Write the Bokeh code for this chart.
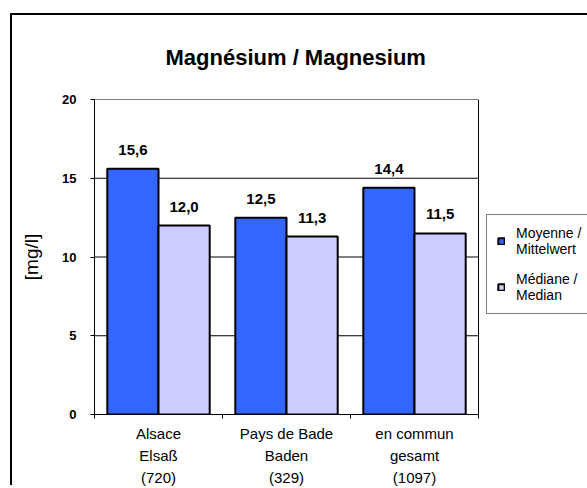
from bokeh.plotting import figure
from bokeh.models import (ColumnDataSource, Range1d, FixedTicker, LabelSet,
                          Legend, LegendItem, BoxAnnotation, InlineStyleSheet)
from bokeh.core.properties import value
from bokeh.embed import file_html
from bokeh.resources import INLINE

# ---- data ----
categories = ["Alsace\nElsaß\n(720)", "Pays de Bade\nBaden\n(329)", "en commun\ngesamt\n(1097)"]
mean_values = [15.6, 12.5, 14.4]
median_values = [12.0, 11.3, 11.5]
series_names = ["Moyenne /\nMittelwert", "Médiane /\nMedian"]
y_ticks = [0, 5, 10, 15, 20]
grid_values = [5, 10, 15]
title_text = "Magnésium / Magnesium"
y_label_text = "[mg/l]"

FONT = "'Liberation Sans'"
BLUE = "#3366FF"
LAV = "#CCCCFF"

n = len(categories)
idx = list(range(n))
Y_MAX = 20
# the frame runs on to the right edge so that the legend can sit beside the plot box
X_END = n * 493 / 384

p = figure(width=587, height=488, output_backend="svg", toolbar_location=None,
           x_range=Range1d(0, X_END), y_range=Range1d(0, Y_MAX),
           min_border_left=94, min_border_right=0, min_border_top=99,
           min_border_bottom=74)

def fmt(v):
    return f"{v:.1f}".replace(".", ",")

src_mean = ColumnDataSource(dict(x=[i + 0.3 for i in idx], top=mean_values,
                                 lbl=[fmt(v) for v in mean_values]))
src_med = ColumnDataSource(dict(x=[i + 0.7 for i in idx], top=median_values,
                                lbl=[fmt(v) for v in median_values]))

# horizontal gridlines limited to the plot box
p.segment(x0=[0] * len(grid_values), x1=[n] * len(grid_values),
          y0=grid_values, y1=grid_values, line_color="black", line_width=1,
          level="underlay")

r1 = p.vbar(x="x", top="top", width=0.4, source=src_mean, fill_color=BLUE,
            line_color="black", line_width=2)
r2 = p.vbar(x="x", top="top", width=0.4, source=src_med, fill_color=LAV,
            line_color="black", line_width=2)

# plot box
p.add_layout(BoxAnnotation(left=0, right=n, bottom=0, top=Y_MAX, fill_alpha=0,
                           line_color="black", line_width=1, line_alpha=1))

for src in (src_mean, src_med):
    p.add_layout(LabelSet(x="x", y="top", text="lbl", source=src, y_offset=14,
                          text_align="center", text_baseline="alphabetic",
                          text_font=value(FONT), text_font_size="15px",
                          text_font_style="bold", text_color="black"))

# title
p.title.text = title_text
p.title.align = "left"
p.title.offset = 71
p.title.text_font = FONT
p.title.text_font_size = "22px"
p.title.text_font_style = "bold"
p.title.text_color = "black"
p.title.standoff = 59

# x axis: labels at category centres (major), ticks at boundaries (minor)
p.xaxis.bounds = (0, n)
p.xaxis.ticker = FixedTicker(ticks=[i + 0.5 for i in idx],
                             minor_ticks=list(range(n + 1)))
p.xaxis.major_label_overrides = {i + 0.5: categories[i] for i in idx}
p.xaxis.major_label_text_font = FONT
p.xaxis.major_label_text_font_size = "15px"
p.xaxis.major_label_text_line_height = 1.3
p.xaxis.major_label_text_color = "black"
p.xaxis.major_label_standoff = 6
p.xaxis.major_tick_out = 0
p.xaxis.major_tick_in = 0
p.xaxis.minor_tick_out = 4
p.xaxis.minor_tick_in = 0
p.xaxis.minor_tick_line_color = "black"
p.xaxis.axis_line_color = "black"

# y axis
p.yaxis.ticker = FixedTicker(ticks=y_ticks)
p.yaxis.major_label_text_font = FONT
p.yaxis.major_label_text_font_size = "13px"
p.yaxis.major_label_text_font_style = "bold"
p.yaxis.major_label_text_color = "black"
p.yaxis.major_label_standoff = 14
p.yaxis.major_tick_out = 4
p.yaxis.major_tick_in = 0
p.yaxis.minor_tick_line_color = None
p.yaxis.axis_line_color = "black"
p.yaxis.major_tick_line_color = "black"
p.yaxis.axis_label = y_label_text
p.yaxis.axis_label_text_font = FONT
p.yaxis.axis_label_text_font_size = "19px"
p.yaxis.axis_label_text_font_style = "normal"
p.yaxis.axis_label_text_color = "black"
p.yaxis.axis_label_standoff = 17

p.xgrid.grid_line_color = None
p.ygrid.grid_line_color = None

p.outline_line_color = None
p.background_fill_color = "white"
p.border_fill_color = "white"

legend = Legend(items=[LegendItem(label=series_names[0], renderers=[r1]),
                       LegendItem(label=series_names[1], renderers=[r2])],
                location=(392, 100), orientation="vertical",
                label_text_font=FONT, label_text_font_size="14px",
                label_text_line_height=1.37, label_text_color="black",
                label_width=80,
                glyph_width=8, glyph_height=8, label_standoff=11,
                padding=10, spacing=14, margin=0,
                border_line_color="black", border_line_width=1,
                background_fill_color="white", background_fill_alpha=1)
p.add_layout(legend, "center")

# outer chart border (its left and top edges are inside the window)
p.stylesheets = [InlineStyleSheet(css="""
:host::after {
  content: "";
  position: absolute;
  left: 10px; top: 13px; width: 575px; height: 470px;
  border-left: 2px solid black; border-top: 2px solid black;
  pointer-events: none; z-index: 100;
}
""")]

open("out.html", "w").write(file_html(p, INLINE))
